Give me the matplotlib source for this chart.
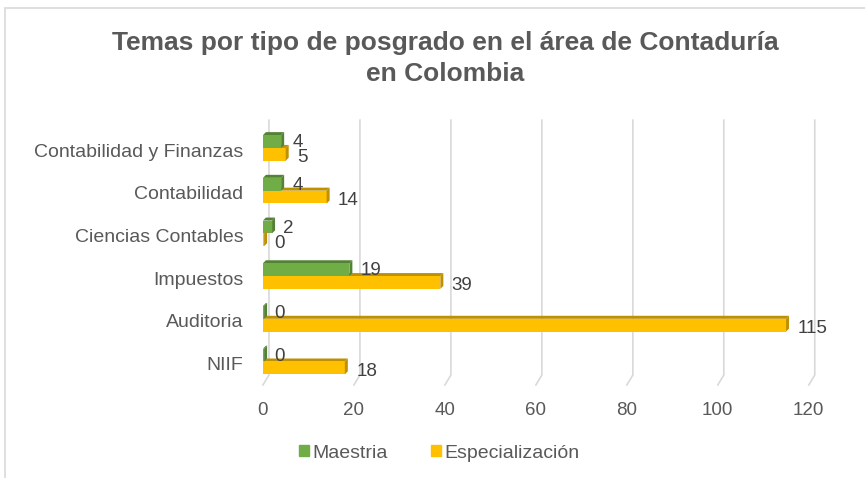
import matplotlib.pyplot as plt
from matplotlib.patches import Rectangle, Patch

categorias = ["Contabilidad y Finanzas", "Contabilidad", "Ciencias Contables",
              "Impuestos", "Auditoria", "NIIF"]
maestria = [4, 4, 2, 19, 0, 0]
especializacion = [5, 14, 0, 39, 115, 18]
ticks_x = [0, 20, 40, 60, 80, 100, 120]

VERDE, VERDE_OSC = "#70AD47", "#548235"
AMARILLO, AMARILLO_OSC = "#FFC000", "#BF9000"
GRIS_TXT = "#595959"

plt.rcParams['font.family'] = ['Liberation Sans', 'DejaVu Sans']

fig = plt.figure(figsize=(8.65, 4.78), dpi=100)
fig.patches.append(Rectangle((0.006, -0.01), 1.1, 0.993, transform=fig.transFigure,
                             fill=False, edgecolor="#D9D9D9", linewidth=1.2))
ax = fig.add_axes([0.304, 0.1946, 0.631, 0.554])

ax.set_xlim(0, 120)
ax.set_ylim(5.5, -0.7)

# profundidad 3D en unidades de datos
dx = 6 / 4.55
dy = 3 / 42.8
dy_floor = 10 / 42.8

# lineas de division inclinadas (pared + piso)
for t in ticks_x:
    ax.plot([t + dx, t + dx, t], [-0.7, 5.5 - dy_floor, 5.5], color="#D9D9D9",
            linewidth=1.2, clip_on=False, zorder=0)

h = 0.3
def barra_3d(y, v, color, oscuro):
    w = max(v, 0.25)
    ax.barh(y, w, height=h, color=color, zorder=3)
    # cara superior
    ax.fill([0, w, w + dx * 0.5, dx * 0.5], [y - h / 2, y - h / 2, y - h / 2 - dy, y - h / 2 - dy],
            color=oscuro, zorder=2, linewidth=0)
    # cara lateral
    ax.fill([w, w + dx * 0.5, w + dx * 0.5, w], [y - h / 2, y - h / 2 - dy, y + h / 2 - dy, y + h / 2],
            color=oscuro, zorder=4, linewidth=0)

for i, (m, e) in enumerate(zip(maestria, especializacion)):
    ym = i - 0.2
    ye = i + 0.1
    barra_3d(ym, m, VERDE, VERDE_OSC)
    barra_3d(ye, e, AMARILLO, AMARILLO_OSC)
    ax.text(m + 2.5, ym + 0.03, str(m), fontsize=13.5, color="#404040", va="center", ha="left", zorder=5)
    ax.text(e + 2.5, ye + 0.08, str(e), fontsize=13.5, color="#404040", va="center", ha="left", zorder=5)

ax.set_yticks(range(len(categorias)))
ax.set_yticklabels(categorias, fontsize=14, color=GRIS_TXT)
ax.set_xticks(ticks_x)
ax.set_xticklabels([str(t) for t in ticks_x], fontsize=13.5, color=GRIS_TXT)
ax.tick_params(axis="y", length=0, pad=14)
ax.tick_params(axis="x", length=0, pad=12)
for s in ax.spines.values():
    s.set_visible(False)

fig.text(0.515, 0.877, "Temas por tipo de posgrado en el área de Contaduría\nen Colombia",
         ha="center", va="center", fontsize=19, fontweight="bold", color=GRIS_TXT,
         linespacing=1.35)

handles = [Patch(color=VERDE, label="Maestria"), Patch(color=AMARILLO, label="Especialización")]
fig.legend(handles=handles, loc="center", bbox_to_anchor=(0.508, 0.052), ncol=2, frameon=False,
           fontsize=14, handlelength=0.5, handleheight=0.5, handletextpad=0.2, columnspacing=2.2,
           labelcolor=GRIS_TXT)

fig.savefig("out.png", dpi=100)
